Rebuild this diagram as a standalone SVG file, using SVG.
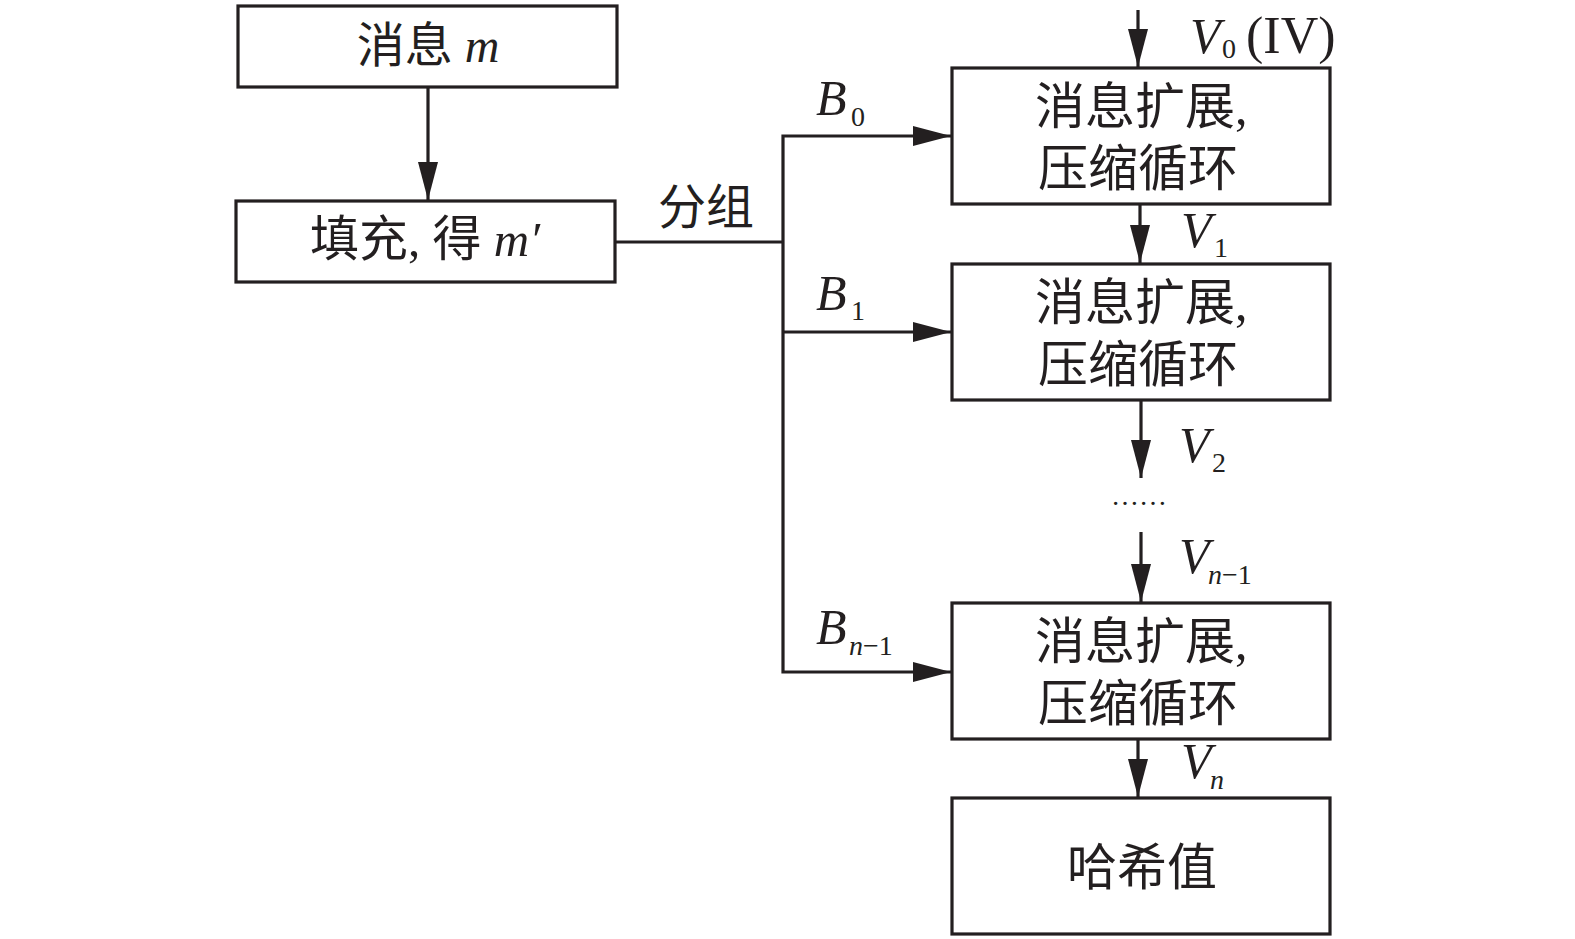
<svg xmlns="http://www.w3.org/2000/svg" width="1575" height="939" viewBox="0 0 1575 939">
<style>
.box{fill:#fff;stroke:#231f20;stroke-width:3.2}
.ln{fill:none;stroke:#231f20;stroke-width:3.2;stroke-linejoin:miter}
.cn{font-family:"Liberation Serif","Noto Sans CJK SC",serif;font-size:48px;fill:#231f20}
.cb{font-family:"Liberation Serif","Noto Sans CJK SC",serif;font-size:50px;fill:#231f20}
.it{font-family:"Liberation Serif",serif;font-style:italic;font-size:50px;fill:#231f20}
.sb{font-family:"Liberation Serif",serif;font-style:normal;font-size:28px;fill:#231f20}
.si{font-family:"Liberation Serif",serif;font-style:italic;font-size:28px;fill:#231f20}
.rm{font-family:"Liberation Serif",serif;font-size:52px;fill:#231f20}
</style>
<defs>
<marker id="ah" markerUnits="userSpaceOnUse" markerWidth="40" markerHeight="22" refX="38" refY="10" orient="auto" viewBox="0 0 40 20">
<path d="M0,0 L38,10 L0,20 z" fill="#231f20"/>
</marker>
</defs>
<g id="connectors">
<path class="ln" d="M428,87 V200" marker-end="url(#ah)"/>
<path class="ln" d="M615,242 H783"/>
<path class="ln" d="M783,242 V136 H951" marker-end="url(#ah)"/>
<path class="ln" d="M783,332 H951" marker-end="url(#ah)"/>
<path class="ln" d="M783,242 V672 H951" marker-end="url(#ah)"/>
<path class="ln" d="M1138,10 V67" marker-end="url(#ah)"/>
<path class="ln" d="M1140,204 V263" marker-end="url(#ah)"/>
<path class="ln" d="M1141,400 V478" marker-end="url(#ah)"/>
<path class="ln" d="M1141,532 V602" marker-end="url(#ah)"/>
<path class="ln" d="M1138,739 V797" marker-end="url(#ah)"/>
<text class="cn" x="658" y="224">分组</text>
<text class="it" x="816" y="115">B</text><text class="sb" x="851" y="126">0</text>
<text class="it" x="816" y="310">B</text><text class="sb" x="851" y="320">1</text>
<text class="it" x="816" y="644">B</text><text class="si" x="849" y="655">n<tspan class="sb">−1</tspan></text>
<text class="it" x="1190" y="53">V</text><text class="sb" x="1222" y="58">0</text><text class="rm" x="1246" y="53">(IV)</text>
<text class="it" x="1181" y="247">V</text><text class="sb" x="1214" y="257">1</text>
<text class="it" x="1179" y="462">V</text><text class="sb" x="1212" y="472">2</text>
<text class="sb" x="1111" y="505" style="font-size:28px">……</text>
<text class="it" x="1179" y="573">V</text><text class="si" x="1208" y="584">n<tspan class="sb">−1</tspan></text>
<text class="it" x="1181" y="778">V</text><text class="si" x="1210" y="789">n</text>
</g>
<g id="n_msg">
<rect class="box" x="238" y="6" width="379" height="81"/>
<text class="cn" x="428" y="62" text-anchor="middle">消息 <tspan font-style="italic">m</tspan></text>
</g>
<g id="n_pad">
<rect class="box" x="236" y="201" width="379" height="81"/>
<text class="cn" x="425" y="256" text-anchor="middle" style="font-size:49px">填充, 得 <tspan font-style="italic">m′</tspan></text>
</g>
<g id="n_c0">
<rect class="box" x="952" y="68" width="378" height="136"/>
<text class="cb" x="1035" y="124">消息扩展,</text>
<text class="cb" x="1038" y="186">压缩循环</text>
</g>
<g id="n_c1">
<rect class="box" x="952" y="264" width="378" height="136"/>
<text class="cb" x="1035" y="320">消息扩展,</text>
<text class="cb" x="1038" y="382">压缩循环</text>
</g>
<g id="n_cn">
<rect class="box" x="952" y="603" width="378" height="136"/>
<text class="cb" x="1035" y="659">消息扩展,</text>
<text class="cb" x="1038" y="721">压缩循环</text>
</g>
<g id="n_hash">
<rect class="box" x="952" y="798" width="378" height="136"/>
<text class="cb" x="1142" y="885" text-anchor="middle">哈希值</text>
</g>
</svg>
